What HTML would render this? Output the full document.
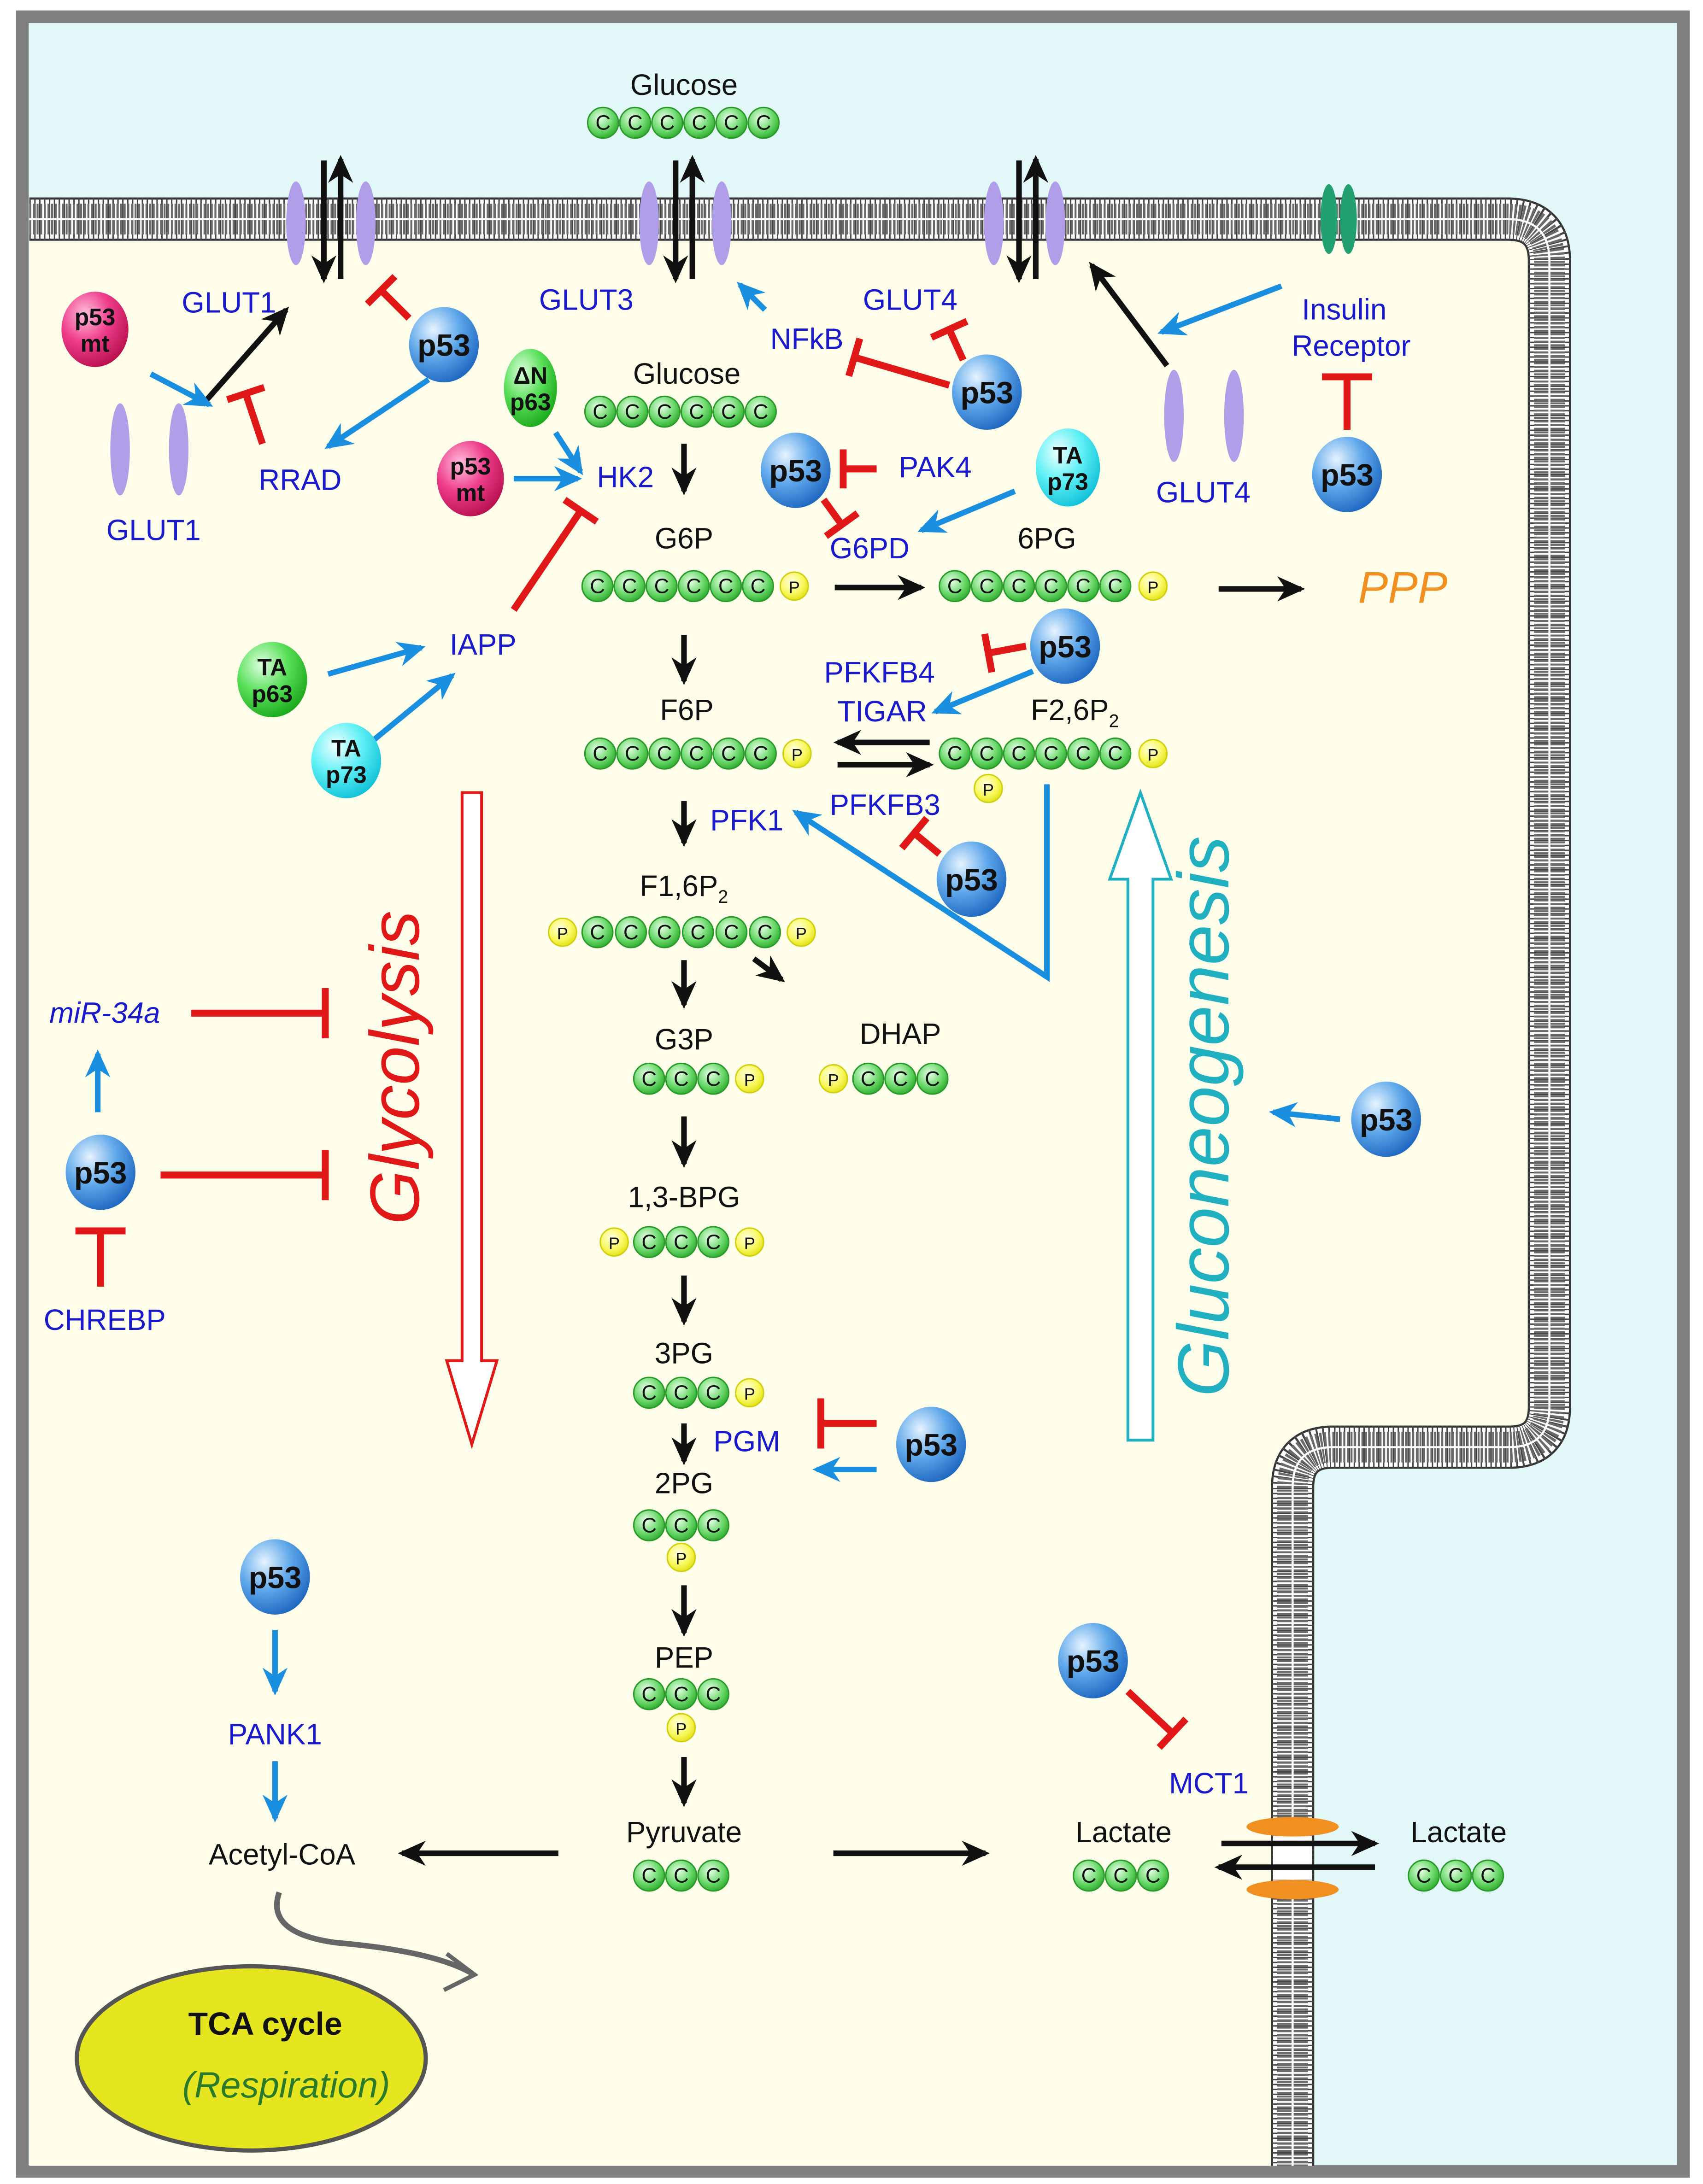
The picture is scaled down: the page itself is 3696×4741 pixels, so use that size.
<!DOCTYPE html>
<html><head><meta charset="utf-8"><style>
html,body{margin:0;padding:0;background:#fff}
svg{display:block}
text{font-family:"Liberation Sans",sans-serif}
.b{fill:#1a1acc;font-size:21px}
.k{fill:#111;font-size:21px}
.bc{font-size:15px;fill:#111;text-anchor:middle}
.ps{font-size:22px;font-weight:bold;fill:#111;text-anchor:middle}
.pm{font-size:17px;font-weight:bold;fill:#111;text-anchor:middle}
</style></head><body>
<svg xmlns="http://www.w3.org/2000/svg" width="3696" height="4741" viewBox="0 0 1220 1565">
<defs>
<radialGradient id="gb" cx="0.35" cy="0.3" r="0.75"><stop offset="0" stop-color="#e6f3ff"/><stop offset="0.5" stop-color="#5fa8ea"/><stop offset="1" stop-color="#1d66c0"/></radialGradient>
<radialGradient id="gm" cx="0.35" cy="0.3" r="0.75"><stop offset="0" stop-color="#ffc0dd"/><stop offset="0.5" stop-color="#ee3d8a"/><stop offset="1" stop-color="#b8104e"/></radialGradient>
<radialGradient id="gg" cx="0.35" cy="0.3" r="0.75"><stop offset="0" stop-color="#e0ffe0"/><stop offset="0.5" stop-color="#5ae05a"/><stop offset="1" stop-color="#1aa81a"/></radialGradient>
<radialGradient id="gc" cx="0.35" cy="0.3" r="0.75"><stop offset="0" stop-color="#f0ffff"/><stop offset="0.5" stop-color="#5ff0f5"/><stop offset="1" stop-color="#10c0d8"/></radialGradient>
<radialGradient id="bc" cx="0.4" cy="0.35" r="0.7"><stop offset="0" stop-color="#e8ffe8"/><stop offset="0.6" stop-color="#6ad86a"/><stop offset="1" stop-color="#2aa82a"/></radialGradient>
<radialGradient id="bp" cx="0.4" cy="0.35" r="0.7"><stop offset="0" stop-color="#ffffe0"/><stop offset="0.6" stop-color="#f8f860"/><stop offset="1" stop-color="#e0e010"/></radialGradient>
<marker id="ak" markerUnits="userSpaceOnUse" markerWidth="20" markerHeight="18" refX="17" refY="9" orient="auto"><path d="M0,0 L20,9 L0,18 L6,9z" fill="#111"/></marker>
<marker id="ab" markerUnits="userSpaceOnUse" markerWidth="20" markerHeight="18" refX="17" refY="9" orient="auto"><path d="M0,0 L20,9 L0,18 L6,9z" fill="#1a8fe0"/></marker>
<marker id="ir" markerUnits="userSpaceOnUse" markerWidth="5" markerHeight="28" refX="2.5" refY="14" orient="auto"><rect x="0" y="0" width="5" height="28" fill="#e01818"/></marker>
<marker id="irL" markerUnits="userSpaceOnUse" markerWidth="5" markerHeight="36" refX="2.5" refY="18" orient="auto"><rect x="0" y="0" width="5" height="36" fill="#e01818"/></marker>
</defs>
<rect width="1220" height="1565" fill="#fff"/>
<rect x="16" y="12" width="1190" height="1544" fill="#e2f7f7" stroke="#808080" stroke-width="9"/>
<path d="M21,157 H1080 Q1110,157 1110,187 V1008 Q1110,1037 1081,1037 H955 Q926,1037 926,1066 V1552 H21 Z" fill="#fdfdea"/>
<g fill="none">
<path d="M21,157 H1080 Q1110,157 1110,187 V1008 Q1110,1037 1081,1037 H955 Q926,1037 926,1066 V1552" stroke="#333" stroke-width="31"/>
<path d="M21,157 H1080 Q1110,157 1110,187 V1008 Q1110,1037 1081,1037 H955 Q926,1037 926,1066 V1552" stroke="#fff" stroke-width="28"/>
<path d="M21,157 H1080 Q1110,157 1110,187 V1008 Q1110,1037 1081,1037 H955 Q926,1037 926,1066 V1552" stroke="#444" stroke-width="31" stroke-dasharray="1 2.5"/>
<path d="M21,157 H1080 Q1110,157 1110,187 V1008 Q1110,1037 1081,1037 H955 Q926,1037 926,1066 V1552" stroke="#6a6a6a" stroke-width="22" stroke-dasharray="1.4 1.2"/>
<path d="M21,157 H1080 Q1110,157 1110,187 V1008 Q1110,1037 1081,1037 H955 Q926,1037 926,1066 V1552" stroke="#fff" stroke-width="1.5"/>
</g>
<g fill="#b09ee8">
<ellipse cx="212" cy="160" rx="7" ry="30"/><ellipse cx="262" cy="160" rx="7" ry="30"/>
<ellipse cx="465" cy="160" rx="7" ry="30"/><ellipse cx="517" cy="160" rx="7" ry="30"/>
<ellipse cx="712" cy="160" rx="7" ry="30"/><ellipse cx="756" cy="160" rx="7" ry="30"/>
<ellipse cx="86" cy="322" rx="7" ry="33"/><ellipse cx="128" cy="322" rx="7" ry="33"/>
<ellipse cx="841" cy="298" rx="7" ry="33"/><ellipse cx="884" cy="298" rx="7" ry="33"/>
</g>
<ellipse cx="952" cy="157" rx="6" ry="25" fill="#22a070"/><ellipse cx="966" cy="157" rx="6" ry="25" fill="#22a070"/>
<g fill="#f09020"><ellipse cx="926" cy="1309" rx="33" ry="7"/><ellipse cx="926" cy="1354" rx="33" ry="7"/></g>
<rect x="912" y="1317" width="28" height="30" fill="#fff"/>
<g stroke="#111" stroke-width="4" fill="none">
<path d="M232,115 V200" marker-end="url(#ak)"/><path d="M244,200 V114" marker-end="url(#ak)"/>
<path d="M484,115 V200" marker-end="url(#ak)"/><path d="M496,200 V114" marker-end="url(#ak)"/>
<path d="M730,115 V200" marker-end="url(#ak)"/><path d="M742,200 V114" marker-end="url(#ak)"/>
<path d="M145,290 L205,222" marker-end="url(#ak)"/>
<path d="M836,262 L782,190" marker-end="url(#ak)"/>
<path d="M490,318 V352" marker-end="url(#ak)"/>
<path d="M598,421 H660" marker-end="url(#ak)"/>
<path d="M873,422 H932" marker-end="url(#ak)"/>
<path d="M490,455 V488" marker-end="url(#ak)"/>
<path d="M666,532 H600" marker-end="url(#ak)"/>
<path d="M600,548 H666" marker-end="url(#ak)"/>
<path d="M490,574 V604" marker-end="url(#ak)"/>
<path d="M490,688 V720" marker-end="url(#ak)"/>
<path d="M540,687 L560,702" marker-end="url(#ak)"/>
<path d="M490,800 V834" marker-end="url(#ak)"/>
<path d="M490,914 V947" marker-end="url(#ak)"/>
<path d="M490,1020 V1047" marker-end="url(#ak)"/>
<path d="M490,1136 V1170" marker-end="url(#ak)"/>
<path d="M490,1259 V1292" marker-end="url(#ak)"/>
<path d="M400,1328 H288" marker-end="url(#ak)"/>
<path d="M597,1328 H706" marker-end="url(#ak)"/>
<path d="M875,1321 H985" marker-end="url(#ak)"/>
<path d="M985,1338 H873" marker-end="url(#ak)"/>
</g>
<g stroke="#1a8fe0" stroke-width="4" fill="none">
<path d="M108,268 L150,290" marker-end="url(#ab)"/>
<path d="M307,272 L235,320" marker-end="url(#ab)"/>
<path d="M548,222 L530,204" marker-end="url(#ab)"/>
<path d="M918,205 L832,238" marker-end="url(#ab)"/>
<path d="M398,310 L416,338" marker-end="url(#ab)"/>
<path d="M368,343 H414" marker-end="url(#ab)"/>
<path d="M727,352 L660,380" marker-end="url(#ab)"/>
<path d="M235,483 L302,464" marker-end="url(#ab)"/>
<path d="M268,530 L324,484" marker-end="url(#ab)"/>
<path d="M740,481 L670,510" marker-end="url(#ab)"/>
<path d="M750,562 V700 L570,582" marker-end="url(#ab)"/>
<path d="M70,797 V755" marker-end="url(#ab)"/>
<path d="M960,802 L912,797" marker-end="url(#ab)"/>
<path d="M628,1053 H585" marker-end="url(#ab)"/>
<path d="M197,1168 V1212" marker-end="url(#ab)"/>
<path d="M197,1262 V1303" marker-end="url(#ab)"/>
</g>
<g stroke="#e01818" stroke-width="5" fill="none">
<path d="M293,228 L273,208" marker-end="url(#ir)"/>
<path d="M188,318 L176,282" marker-end="url(#ir)"/>
<path d="M680,276 L612,256" marker-end="url(#ir)"/>
<path d="M690,258 L680,236" marker-end="url(#ir)"/>
<path d="M965,308 V270" marker-end="url(#irL)"/>
<path d="M628,336 H604" marker-end="url(#ir)"/>
<path d="M590,358 L603,376" marker-end="url(#ir)"/>
<path d="M368,437 L416,366" marker-end="url(#ir)"/>
<path d="M735,463 L708,468" marker-end="url(#ir)"/>
<path d="M673,612 L655,597" marker-end="url(#ir)"/>
<path d="M137,726 H233" marker-end="url(#irL)"/>
<path d="M115,842 H233" marker-end="url(#irL)"/>
<path d="M72,922 V882" marker-end="url(#irL)"/>
<path d="M628,1020 H588" marker-end="url(#irL)"/>
<path d="M808,1212 L840,1242" marker-end="url(#ir)"/>
</g>
<path d="M331,568 H345 V975 H356 L338,1035 L320,975 H331 Z" fill="#fff" stroke="#e01818" stroke-width="2"/>
<path d="M808,1032 H826 V630 H839 L817,568 L795,630 H808 Z" fill="#fff" stroke="#20b0c0" stroke-width="2"/>
<text transform="translate(300,765) rotate(-90)" text-anchor="middle" font-size="50" font-style="italic" fill="#e01818">Glycolysis</text>
<text transform="translate(880,800) rotate(-90)" text-anchor="middle" font-size="52" font-style="italic" fill="#20b0c0">Gluconeogenesis</text>
<ellipse cx="180" cy="1475" rx="125" ry="66" fill="#e6e620" stroke="#555" stroke-width="3"/>
<path d="M200,1356 Q190,1385 240,1392 Q310,1398 338,1414" fill="none" stroke="#666" stroke-width="4"/>
<path d="M320,1400 L340,1415 L318,1426" fill="none" stroke="#666" stroke-width="3"/>
<text x="190" y="1458" text-anchor="middle" font-size="23" font-weight="bold" fill="#111">TCA cycle</text>
<text x="205" y="1503" text-anchor="middle" font-size="26" font-style="italic" fill="#2a7a2a">(Respiration)</text>
<g class="k" text-anchor="middle">
<text x="490" y="68">Glucose</text>
<text x="492" y="275">Glucose</text>
<text x="490" y="393">G6P</text>
<text x="750" y="393">6PG</text>
<text x="492" y="516">F6P</text>
<text x="770" y="516">F2,6P<tspan font-size="13" dy="5">2</tspan></text>
<text x="490" y="642">F1,6P<tspan font-size="13" dy="5">2</tspan></text>
<text x="490" y="752">G3P</text>
<text x="645" y="748">DHAP</text>
<text x="490" y="865">1,3-BPG</text>
<text x="490" y="977">3PG</text>
<text x="490" y="1070">2PG</text>
<text x="490" y="1195">PEP</text>
<text x="490" y="1320">Pyruvate</text>
<text x="805" y="1320">Lactate</text>
<text x="1045" y="1320">Lactate</text>
<text x="202" y="1336">Acetyl-CoA</text>
</g>
<text x="1005" y="432" text-anchor="middle" font-size="32" font-style="italic" fill="#f09020">PPP</text>
<g class="b" text-anchor="middle">
<text x="164" y="224">GLUT1</text>
<text x="215" y="351">RRAD</text>
<text x="110" y="387">GLUT1</text>
<text x="420" y="222">GLUT3</text>
<text x="448" y="349">HK2</text>
<text x="578" y="250">NFkB</text>
<text x="652" y="222">GLUT4</text>
<text x="670" y="342">PAK4</text>
<text x="623" y="400">G6PD</text>
<text x="963" y="229">Insulin</text>
<text x="968" y="255">Receptor</text>
<text x="862" y="360">GLUT4</text>
<text x="346" y="469">IAPP</text>
<text x="630" y="489">PFKFB4</text>
<text x="632" y="517">TIGAR</text>
<text x="535" y="595">PFK1</text>
<text x="634" y="584">PFKFB3</text>
<text x="75" y="733" font-style="italic">miR-34a</text>
<text x="75" y="953">CHREBP</text>
<text x="535" y="1040">PGM</text>
<text x="197" y="1250">PANK1</text>
<text x="866" y="1285">MCT1</text>
</g>
<g stroke="#2a9a2a" stroke-width="1">
<g fill="url(#bc)">
<circle cx="432" cy="88" r="11"/><circle cx="455" cy="88" r="11"/><circle cx="478" cy="88" r="11"/><circle cx="501" cy="88" r="11"/><circle cx="524" cy="88" r="11"/><circle cx="547" cy="88" r="11"/>
<circle cx="430" cy="295" r="11"/><circle cx="453" cy="295" r="11"/><circle cx="476" cy="295" r="11"/><circle cx="499" cy="295" r="11"/><circle cx="522" cy="295" r="11"/><circle cx="545" cy="295" r="11"/>
<circle cx="428" cy="420" r="11"/><circle cx="451" cy="420" r="11"/><circle cx="474" cy="420" r="11"/><circle cx="497" cy="420" r="11"/><circle cx="520" cy="420" r="11"/><circle cx="543" cy="420" r="11"/>
<circle cx="684" cy="420" r="11"/><circle cx="707" cy="420" r="11"/><circle cx="730" cy="420" r="11"/><circle cx="753" cy="420" r="11"/><circle cx="776" cy="420" r="11"/><circle cx="799" cy="420" r="11"/>
<circle cx="430" cy="540" r="11"/><circle cx="453" cy="540" r="11"/><circle cx="476" cy="540" r="11"/><circle cx="499" cy="540" r="11"/><circle cx="522" cy="540" r="11"/><circle cx="545" cy="540" r="11"/>
<circle cx="684" cy="540" r="11"/><circle cx="707" cy="540" r="11"/><circle cx="730" cy="540" r="11"/><circle cx="753" cy="540" r="11"/><circle cx="776" cy="540" r="11"/><circle cx="799" cy="540" r="11"/>
<circle cx="428" cy="668" r="11"/><circle cx="452" cy="668" r="11"/><circle cx="476" cy="668" r="11"/><circle cx="500" cy="668" r="11"/><circle cx="524" cy="668" r="11"/><circle cx="548" cy="668" r="11"/>
<circle cx="465" cy="773" r="11"/><circle cx="488" cy="773" r="11"/><circle cx="511" cy="773" r="11"/>
<circle cx="622" cy="773" r="11"/><circle cx="645" cy="773" r="11"/><circle cx="668" cy="773" r="11"/>
<circle cx="465" cy="890" r="11"/><circle cx="488" cy="890" r="11"/><circle cx="511" cy="890" r="11"/>
<circle cx="465" cy="998" r="11"/><circle cx="488" cy="998" r="11"/><circle cx="511" cy="998" r="11"/>
<circle cx="465" cy="1093" r="11"/><circle cx="488" cy="1093" r="11"/><circle cx="511" cy="1093" r="11"/>
<circle cx="465" cy="1214" r="11"/><circle cx="488" cy="1214" r="11"/><circle cx="511" cy="1214" r="11"/>
<circle cx="465" cy="1344" r="11"/><circle cx="488" cy="1344" r="11"/><circle cx="511" cy="1344" r="11"/>
<circle cx="780" cy="1344" r="11"/><circle cx="803" cy="1344" r="11"/><circle cx="826" cy="1344" r="11"/>
<circle cx="1020" cy="1344" r="11"/><circle cx="1043" cy="1344" r="11"/><circle cx="1066" cy="1344" r="11"/>
</g>
<g fill="url(#bp)" stroke="#d0d010">
<circle cx="569" cy="420" r="10"/><circle cx="826" cy="420" r="10"/><circle cx="571" cy="540" r="10"/><circle cx="826" cy="540" r="10"/><circle cx="708" cy="565" r="10"/>
<circle cx="403" cy="668" r="10"/><circle cx="574" cy="668" r="10"/><circle cx="537" cy="773" r="10"/><circle cx="597" cy="773" r="10"/>
<circle cx="440" cy="890" r="10"/><circle cx="537" cy="890" r="10"/><circle cx="537" cy="998" r="10"/><circle cx="488" cy="1116" r="10"/><circle cx="488" cy="1238" r="10"/>
</g>
</g>
<g class="bc">
<text x="432" y="93">C</text><text x="455" y="93">C</text><text x="478" y="93">C</text><text x="501" y="93">C</text><text x="524" y="93">C</text><text x="547" y="93">C</text>
<text x="430" y="300">C</text><text x="453" y="300">C</text><text x="476" y="300">C</text><text x="499" y="300">C</text><text x="522" y="300">C</text><text x="545" y="300">C</text>
<text x="428" y="425">C</text><text x="451" y="425">C</text><text x="474" y="425">C</text><text x="497" y="425">C</text><text x="520" y="425">C</text><text x="543" y="425">C</text><text x="569" y="425" font-size="12">P</text>
<text x="684" y="425">C</text><text x="707" y="425">C</text><text x="730" y="425">C</text><text x="753" y="425">C</text><text x="776" y="425">C</text><text x="799" y="425">C</text><text x="826" y="425" font-size="12">P</text>
<text x="430" y="545">C</text><text x="453" y="545">C</text><text x="476" y="545">C</text><text x="499" y="545">C</text><text x="522" y="545">C</text><text x="545" y="545">C</text><text x="571" y="545" font-size="12">P</text>
<text x="684" y="545">C</text><text x="707" y="545">C</text><text x="730" y="545">C</text><text x="753" y="545">C</text><text x="776" y="545">C</text><text x="799" y="545">C</text><text x="826" y="545" font-size="12">P</text><text x="708" y="570" font-size="12">P</text>
<text x="403" y="673" font-size="12">P</text><text x="428" y="673">C</text><text x="452" y="673">C</text><text x="476" y="673">C</text><text x="500" y="673">C</text><text x="524" y="673">C</text><text x="548" y="673">C</text><text x="574" y="673" font-size="12">P</text>
<text x="465" y="778">C</text><text x="488" y="778">C</text><text x="511" y="778">C</text><text x="537" y="778" font-size="12">P</text>
<text x="597" y="778" font-size="12">P</text><text x="622" y="778">C</text><text x="645" y="778">C</text><text x="668" y="778">C</text>
<text x="440" y="895" font-size="12">P</text><text x="465" y="895">C</text><text x="488" y="895">C</text><text x="511" y="895">C</text><text x="537" y="895" font-size="12">P</text>
<text x="465" y="1003">C</text><text x="488" y="1003">C</text><text x="511" y="1003">C</text><text x="537" y="1003" font-size="12">P</text>
<text x="465" y="1098">C</text><text x="488" y="1098">C</text><text x="511" y="1098">C</text><text x="488" y="1121" font-size="12">P</text>
<text x="465" y="1219">C</text><text x="488" y="1219">C</text><text x="511" y="1219">C</text><text x="488" y="1243" font-size="12">P</text>
<text x="465" y="1349">C</text><text x="488" y="1349">C</text><text x="511" y="1349">C</text>
<text x="780" y="1349">C</text><text x="803" y="1349">C</text><text x="826" y="1349">C</text>
<text x="1020" y="1349">C</text><text x="1043" y="1349">C</text><text x="1066" y="1349">C</text>
</g>
<g fill="url(#gb)">
<ellipse cx="318" cy="247" rx="25" ry="27"/><ellipse cx="707" cy="281" rx="25" ry="27"/><ellipse cx="570" cy="337" rx="25" ry="27"/>
<ellipse cx="965" cy="340" rx="25" ry="27"/><ellipse cx="763" cy="463" rx="25" ry="27"/><ellipse cx="696" cy="630" rx="25" ry="27"/>
<ellipse cx="72" cy="840" rx="25" ry="27"/><ellipse cx="667" cy="1035" rx="25" ry="27"/><ellipse cx="993" cy="802" rx="25" ry="27"/>
<ellipse cx="197" cy="1130" rx="25" ry="27"/><ellipse cx="783" cy="1190" rx="25" ry="27"/>
</g>
<g class="ps">
<text x="318" y="255">p53</text><text x="707" y="289">p53</text><text x="570" y="345">p53</text>
<text x="965" y="348">p53</text><text x="763" y="471">p53</text><text x="696" y="638">p53</text>
<text x="72" y="848">p53</text><text x="667" y="1043">p53</text><text x="993" y="810">p53</text>
<text x="197" y="1138">p53</text><text x="783" y="1198">p53</text>
</g>
<ellipse cx="68" cy="236" rx="24" ry="27" fill="url(#gm)"/>
<ellipse cx="337" cy="343" rx="24" ry="27" fill="url(#gm)"/>
<ellipse cx="380" cy="278" rx="19" ry="28" fill="url(#gg)"/>
<ellipse cx="195" cy="487" rx="25" ry="27" fill="url(#gg)"/>
<ellipse cx="765" cy="335" rx="23" ry="28" fill="url(#gc)"/>
<ellipse cx="248" cy="545" rx="25" ry="27" fill="url(#gc)"/>
<g class="pm">
<text x="68" y="233">p53</text><text x="68" y="252">mt</text>
<text x="337" y="340">p53</text><text x="337" y="359">mt</text>
<text x="380" y="275">ΔN</text><text x="380" y="294">p63</text>
<text x="195" y="484">TA</text><text x="195" y="503">p63</text>
<text x="765" y="332">TA</text><text x="765" y="351">p73</text>
<text x="248" y="542">TA</text><text x="248" y="561">p73</text>
</g>
</svg>
</body></html>
